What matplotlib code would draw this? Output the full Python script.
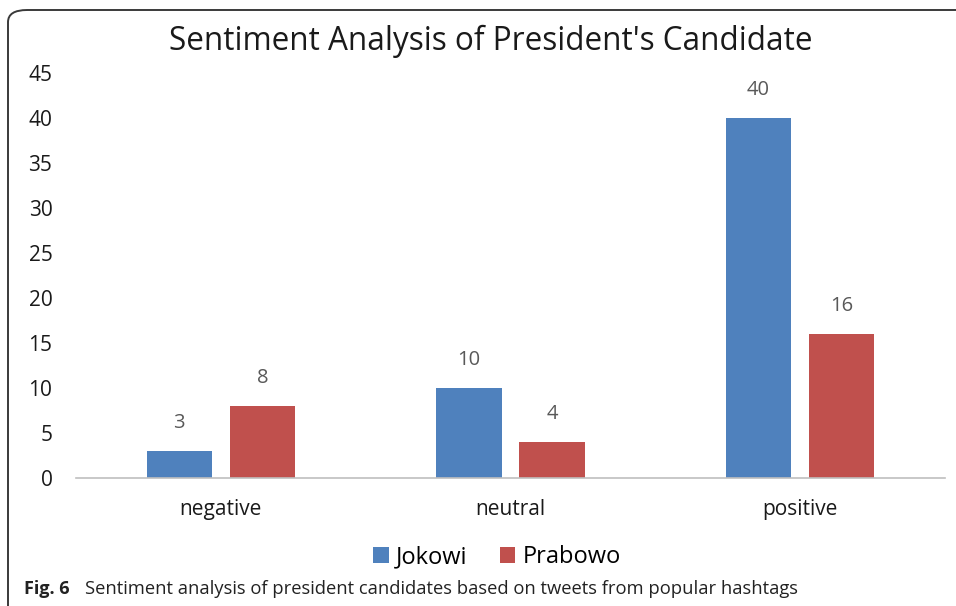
import numpy as np
import matplotlib
matplotlib.use("Agg")
import matplotlib.pyplot as plt
from matplotlib.patches import FancyBboxPatch

# Tweet counts per sentiment class
categories = ["negative", "neutral", "positive"]
jokowi = [3, 10, 40]
prabowo = [8, 4, 16]
y_ticks = [0, 5, 10, 15, 20, 25, 30, 35, 40, 45]

blue = "#4f81bd"
red = "#c0504d"
label_grey = "#595959"
chart_font = ["Open Sans", "DejaVu Sans"]
caption_font = ["Open Sans", "DejaVu Sans"]

fig = plt.figure(figsize=(9.56, 6.06), dpi=100)
W, H = 956, 606

# rounded frame around the chart panel
frame = FancyBboxPatch((8 / W, -0.2), 1.2, 1.2 - 10 / H,
                       boxstyle="round,pad=0,rounding_size=0.02",
                       transform=fig.transFigure, facecolor="none",
                       edgecolor="#3a3a3a", linewidth=1.4, clip_on=False)
fig.patches.append(frame)

ax = fig.add_axes([76 / W, 1 - 478 / H, (945 - 76) / W, (478 - 73) / H])

x = np.arange(len(categories))
bw = 0.225
gap = 0.062
off = (bw + gap) / 2
b1 = ax.bar(x - off, jokowi, bw, color=blue, label="Jokowi")
b2 = ax.bar(x + off, prabowo, bw, color=red, label="Prabowo")

for bars, vals in ((b1, jokowi), (b2, prabowo)):
    for b, v in zip(bars, vals):
        ax.text(b.get_x() + b.get_width() / 2, v + 2.0, str(v),
                ha="center", va="bottom", fontsize=14.5, color=label_grey,
                family=chart_font)

ax.set_xlim(-0.5, 2.5)
ax.set_ylim(0, 45)
ax.set_yticks(y_ticks)
ax.set_yticklabels([str(t) for t in y_ticks], fontsize=15, family=chart_font,
                   color="#1a1a1a")
ax.set_xticks(x)
ax.set_xticklabels(categories, fontsize=15, family=chart_font, color="#1a1a1a")
ax.tick_params(axis="y", length=0, pad=17)
ax.tick_params(axis="x", length=0, pad=15)
for s in ("top", "right", "left"):
    ax.spines[s].set_visible(False)
ax.spines["bottom"].set_color("#bfbfbf")
ax.spines["bottom"].set_linewidth(1.2)

fig.text(491 / W, 1 - 41 / H, "Sentiment Analysis of President's Candidate",
         ha="center", va="center", fontsize=22.7, family=chart_font, color="#1a1a1a")

fig.legend(handles=[b1, b2], labels=["Jokowi", "Prabowo"], loc="center",
           bbox_to_anchor=(497 / W, 1 - 557 / H), ncol=2, frameon=False,
           prop={"family": chart_font, "size": 17}, handlelength=0.65,
           handleheight=0.65, handletextpad=0.3, columnspacing=1.4)

fig.text(24 / W, 1 - 589 / H, "Fig. 6", ha="left", va="center", fontsize=13,
         fontweight="bold", family=caption_font, color="#222222")
fig.text(85 / W, 1 - 589 / H,
         "Sentiment analysis of president candidates based on tweets from popular hashtags",
         ha="left", va="center", fontsize=13.2, family=caption_font, color="#222222")

fig.savefig("out.png", dpi=100)
